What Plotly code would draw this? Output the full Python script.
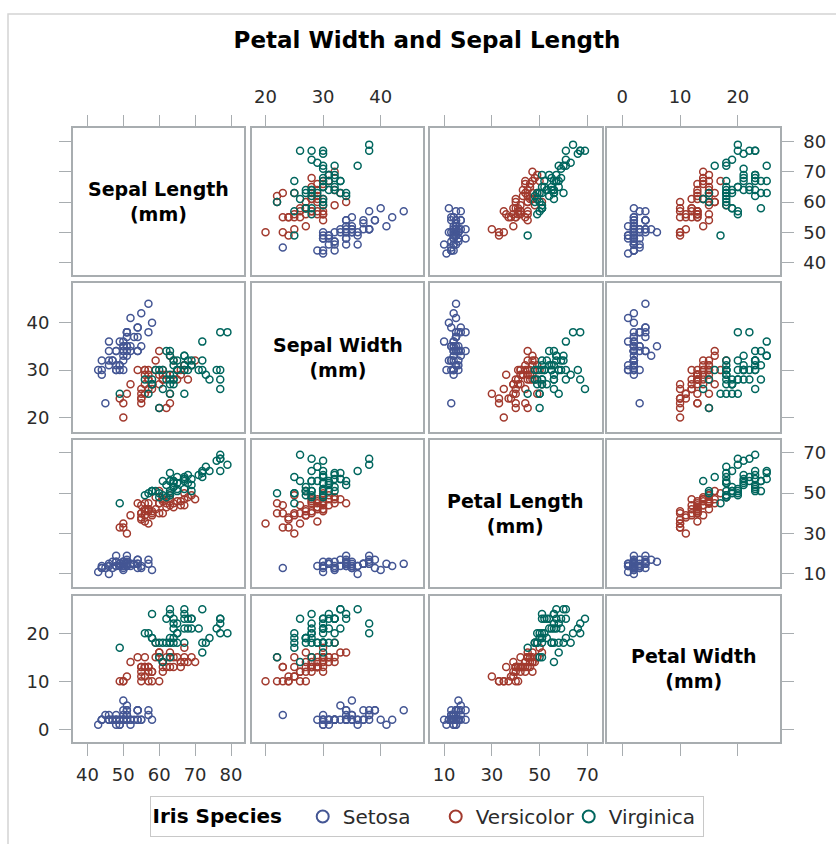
import plotly.graph_objects as go

# Fisher's iris measurements, in millimetres
sepal_length = [
    51, 49, 47, 46, 50, 54, 46, 50, 44, 49, 54, 48, 48, 43, 58, 57, 54, 51, 57, 51,
    54, 51, 46, 51, 48, 50, 50, 52, 52, 47, 48, 54, 52, 55, 49, 50, 55, 49, 44, 51,
    50, 45, 44, 50, 51, 48, 51, 46, 53, 50,
    70, 64, 69, 55, 65, 57, 63, 49, 66, 52, 50, 59, 60, 61, 56, 67, 56, 58, 62, 56,
    59, 61, 63, 61, 64, 66, 68, 67, 60, 57, 55, 55, 58, 60, 54, 60, 67, 63, 56, 55,
    55, 61, 58, 50, 56, 57, 57, 62, 51, 57,
    63, 58, 71, 63, 65, 76, 49, 73, 67, 72, 65, 64, 68, 57, 58, 64, 65, 77, 77, 60,
    69, 56, 77, 63, 67, 72, 62, 61, 64, 72, 74, 79, 64, 63, 61, 77, 63, 64, 60, 69,
    67, 69, 58, 68, 67, 67, 63, 65, 62, 59,
]
sepal_width = [
    35, 30, 32, 31, 36, 39, 34, 34, 29, 31, 37, 34, 30, 30, 40, 44, 39, 35, 38, 38,
    34, 37, 36, 33, 34, 30, 34, 35, 34, 32, 31, 34, 41, 42, 31, 32, 35, 36, 30, 34,
    35, 23, 32, 35, 38, 30, 38, 32, 37, 33,
    32, 32, 31, 23, 28, 28, 33, 24, 29, 27, 20, 30, 22, 29, 29, 31, 30, 27, 22, 25,
    32, 28, 25, 28, 29, 30, 28, 30, 29, 26, 24, 24, 27, 27, 30, 34, 31, 23, 30, 25,
    26, 30, 26, 23, 27, 30, 29, 29, 25, 28,
    33, 27, 30, 29, 30, 30, 25, 29, 25, 36, 32, 27, 30, 25, 28, 32, 30, 38, 26, 22,
    32, 28, 28, 27, 33, 32, 28, 30, 28, 30, 28, 38, 28, 28, 26, 30, 34, 31, 30, 31,
    31, 31, 27, 32, 33, 30, 25, 30, 34, 30,
]
petal_length = [
    14, 14, 13, 15, 14, 17, 14, 15, 14, 15, 15, 16, 14, 11, 12, 15, 13, 14, 17, 15,
    17, 15, 10, 17, 19, 16, 16, 15, 14, 16, 16, 15, 15, 14, 15, 12, 13, 14, 13, 15,
    13, 13, 13, 16, 19, 14, 16, 14, 15, 14,
    47, 45, 49, 40, 46, 45, 47, 33, 46, 39, 35, 42, 40, 47, 36, 44, 45, 41, 45, 39,
    48, 40, 49, 47, 43, 44, 48, 50, 45, 35, 38, 37, 39, 51, 45, 45, 47, 44, 41, 40,
    44, 46, 40, 33, 42, 42, 42, 43, 30, 41,
    60, 51, 59, 56, 58, 66, 45, 63, 58, 61, 51, 53, 55, 50, 51, 53, 55, 67, 69, 50,
    57, 49, 67, 49, 57, 60, 48, 49, 56, 58, 61, 64, 56, 51, 56, 61, 56, 55, 48, 54,
    56, 51, 51, 59, 57, 52, 50, 52, 54, 51,
]
petal_width = [
    2, 2, 2, 2, 2, 4, 3, 2, 2, 1, 2, 2, 1, 1, 2, 4, 4, 3, 3, 3,
    2, 4, 2, 5, 2, 2, 4, 2, 2, 2, 2, 4, 1, 2, 2, 2, 2, 1, 2, 2,
    3, 3, 2, 6, 4, 3, 2, 2, 2, 2,
    14, 15, 15, 13, 15, 13, 16, 10, 13, 14, 10, 15, 10, 14, 13, 14, 15, 10, 15, 11,
    18, 13, 15, 12, 13, 14, 14, 17, 15, 10, 11, 10, 12, 16, 15, 16, 15, 13, 13, 13,
    12, 14, 12, 10, 13, 12, 13, 13, 11, 13,
    25, 19, 21, 18, 22, 21, 17, 18, 18, 25, 20, 19, 21, 20, 24, 23, 18, 22, 23, 15,
    23, 20, 20, 18, 21, 18, 18, 18, 21, 16, 19, 20, 22, 15, 14, 23, 24, 18, 18, 21,
    24, 23, 19, 23, 25, 23, 19, 20, 23, 18,
]
species = ["Setosa"] * 50 + ["Versicolor"] * 50 + ["Virginica"] * 50

species_names = ["Setosa", "Versicolor", "Virginica"]
species_colors = ["#445694", "#A23A2E", "#01665E"]

variable_labels = ["Sepal Length", "Sepal Width", "Petal Length", "Petal Width"]
variable_values = [sepal_length, sepal_width, petal_length, petal_width]
variable_ticks = [[40, 50, 60, 70, 80], [20, 30, 40], [10, 30, 50, 70], [0, 10, 20]]

# axis extents (horizontal / vertical) with the padding around the tick range
x_ranges = [[35.9, 83.7], [17.6, 47.4], [4.1, 76.0], [-2.6, 27.3]]
y_ranges = [[35.9, 84.4], [17.0, 48.3], [3.7, 76.3], [-2.6, 27.8]]

# ---- layout geometry (pixels) ----
W, H = 836, 844
col_px = [(72.7, 244.3), (251.7, 423.3), (430.0, 601.7), (607.3, 780.0)]
row_px = [(128.3, 275.0), (283.3, 431.7), (440.0, 586.7), (595.7, 742.0)]

FONT = "DejaVu Sans"
FRAME = "#a8adb0"
TICKFONT = dict(family=FONT, size=18, color="#2b2b2b")

fig = go.Figure()
layout = {}
annotations = []

for r in range(4):
    for c in range(4):
        k = r * 4 + c + 1
        xa = "xaxis" if k == 1 else f"xaxis{k}"
        ya = "yaxis" if k == 1 else f"yaxis{k}"
        xref = "x" if k == 1 else f"x{k}"
        yref = "y" if k == 1 else f"y{k}"

        x0, x1 = col_px[c]
        y0, y1 = row_px[r]

        # horizontal axis: ticks only on the outer top / bottom rows
        xdict = dict(
            domain=[x0 / W, x1 / W], range=x_ranges[c], anchor=yref,
            showgrid=False, zeroline=False, showline=True, mirror=True,
            linecolor=FRAME, linewidth=1.5, tickfont=TICKFONT,
            tickvals=variable_ticks[c], ticklen=12, tickwidth=1.2, tickcolor=FRAME,
            fixedrange=True,
        )
        if r == 0:
            xdict.update(side="top", ticks="outside", showticklabels=(c % 2 == 1),
                         ticklabelstandoff=4)
        elif r == 3:
            xdict.update(side="bottom", ticks="outside", showticklabels=(c % 2 == 0),
                         ticklabelstandoff=4)
        else:
            xdict.update(ticks="", showticklabels=False)

        # vertical axis: ticks only on the outer left / right columns
        ydict = dict(
            domain=[1 - y1 / H, 1 - y0 / H], range=y_ranges[r], anchor=xref,
            showgrid=False, zeroline=False, showline=True, mirror=True,
            linecolor=FRAME, linewidth=1.5, tickfont=TICKFONT,
            tickvals=variable_ticks[r], ticklen=12, tickwidth=1.2, tickcolor=FRAME,
            fixedrange=True,
        )
        if c == 0:
            ydict.update(side="left", ticks="outside", showticklabels=(r % 2 == 1),
                         ticklabelstandoff=6)
        elif c == 3:
            ydict.update(side="right", ticks="outside", showticklabels=(r % 2 == 0),
                         ticklabelstandoff=6)
        else:
            ydict.update(ticks="", showticklabels=False)

        layout[xa] = xdict
        layout[ya] = ydict

        if r == c:
            # diagonal cell: variable name only (empty trace keeps the frame drawn)
            fig.add_trace(go.Scatter(
                x=[None], y=[None], mode="markers", showlegend=False,
                xaxis=xref, yaxis=yref, hoverinfo="skip",
            ))
            annotations.append(dict(
                xref=f"{xref} domain", yref=f"{yref} domain", x=0.5, y=0.5,
                text=f"<b>{variable_labels[r]}<br>(mm)</b>", showarrow=False,
                font=dict(family=FONT, size=19, color="#000000"),
                xanchor="center", yanchor="middle", align="center",
            ))
            continue

        first_scatter = (r == 0 and c == 1)
        for name, color in zip(species_names, species_colors):
            xs = [v for v, s in zip(variable_values[c], species) if s == name]
            ys = [v for v, s in zip(variable_values[r], species) if s == name]
            fig.add_trace(go.Scatter(
                x=xs, y=ys, mode="markers", name=name, legendgroup=name,
                showlegend=first_scatter, xaxis=xref, yaxis=yref,
                marker=dict(symbol="circle-open", size=7, color=color,
                            line=dict(width=1.5, color=color)),
                hoverinfo="skip",
            ))

fig.update_layout(**layout)
fig.update_layout(
    width=W, height=H,
    margin=dict(l=0, r=0, t=0, b=0),
    paper_bgcolor="white", plot_bgcolor="white",
    font=dict(family=FONT, color="#2b2b2b"),
    title=dict(
        text="<b>Petal Width and Sepal Length</b>",
        x=427 / W, xanchor="center", y=1 - 40 / H, yanchor="middle",
        xref="paper", yref="paper",
        font=dict(family=FONT, size=23, color="#000000"),
    ),
    annotations=annotations,
    legend=dict(
        orientation="h", x=426.5 / W, xanchor="center", y=1 - 796 / H, yanchor="top",
        bordercolor="#c8c8c8", borderwidth=1, bgcolor="white",
        font=dict(family=FONT, size=20, color="#2b2b2b"),
        title=dict(text="<b>Iris Species</b>  ", side="left",
                   font=dict(family=FONT, size=20, color="#000000")),
        itemsizing="constant", traceorder="normal",
        entrywidth=88, itemwidth=30,
    ),
    shapes=[dict(type="rect", xref="paper", yref="paper",
                 x0=8 / W, x1=1.02, y0=-0.02, y1=1 - 14 / H,
                 line=dict(color="#d4d4d4", width=1.5), fillcolor="rgba(0,0,0,0)",
                 layer="below")],
)

fig.write_html("out.html")
